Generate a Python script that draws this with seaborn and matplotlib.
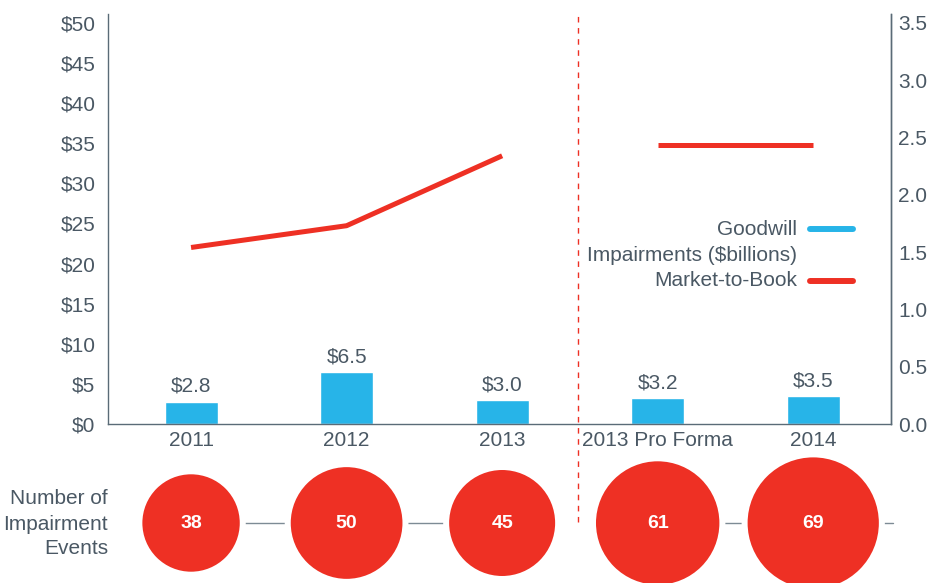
import matplotlib
matplotlib.use("Agg")
import matplotlib.pyplot as plt
import seaborn as sns
import numpy as np
import pandas as pd

# ---- data ----
categories = ["2011", "2012", "2013", "2013 Pro Forma", "2014"]
goodwill = [2.8, 6.5, 3.0, 3.2, 3.5]              # $ billions
market_to_book = [1.54, 1.73, 2.34, 2.43, 2.43]
events = [38, 50, 45, 61, 69]
left_ticks = [0, 5, 10, 15, 20, 25, 30, 35, 40, 45, 50]
right_ticks = [0.0, 0.5, 1.0, 1.5, 2.0, 2.5, 3.0, 3.5]
segments = [[0, 1, 2], [3, 4]]   # line segments (indices) split at the pro forma divider

BLUE = "#27b4e8"
RED = "#ee3024"
TXT = "#4a5864"
SPINE = "#5a6b77"
GRAY = "#7d8b95"
FS = 15

sns.set_theme(style="white")
plt.rcParams["font.family"] = ["Liberation Sans", "DejaVu Sans"]
plt.rcParams["text.color"] = TXT

fig = plt.figure(figsize=(9.29, 5.83), dpi=100)
ax = fig.add_axes([108 / 929, 1 - 424 / 583, (891 - 108) / 929, (424 - 14) / 583])

df = pd.DataFrame({"cat": categories, "goodwill": goodwill})
sns.barplot(data=df, x="cat", y="goodwill", color=BLUE, saturation=1, width=0.34, ax=ax)
ax.set_xlim(-0.534, 4.5)
ylim_top = 51.1
ax.set_ylim(0, ylim_top)
ax.set_yticks(left_ticks)
ax.set_yticklabels([f"${t}" for t in left_ticks])
ax.set_xlabel("")
ax.set_ylabel("")
ax.bar_label(ax.containers[0], labels=[f"${v:.1f}" for v in goodwill],
             padding=4, fontsize=FS, color=TXT)

ax.spines["top"].set_visible(False)
for s in ["left", "bottom", "right"]:
    ax.spines[s].set_color(SPINE)
    ax.spines[s].set_linewidth(1.0)
ax.tick_params(axis="both", length=0, labelsize=FS, colors=TXT)
ax.tick_params(axis="y", pad=9)
ax.tick_params(axis="x", pad=5)

# ---- market-to-book on right axis ----
ax2 = ax.twinx()
for seg in segments:
    seg_df = pd.DataFrame({"x": seg, "v": [market_to_book[i] for i in seg]})
    sns.lineplot(data=seg_df, x="x", y="v", color=RED, linewidth=3.6, ax=ax2,
                 solid_capstyle="butt")
ax2.set_ylim(0, ylim_top * 3.5 / 50)
ax2.set_yticks(right_ticks)
ax2.set_yticklabels([f"{t:.1f}" for t in right_ticks])
ax2.set_xlabel("")
ax2.set_ylabel("")
ax2.tick_params(axis="y", length=0, labelsize=FS, colors=TXT, pad=5)
for s in ["top", "left", "bottom"]:
    ax2.spines[s].set_visible(False)
ax2.spines["right"].set_color(SPINE)
ax2.spines["right"].set_linewidth(1.0)
ax2.set_xlim(-0.534, 4.5)

# ---- divider (dashed) ----
px_per_unit = 410 / ylim_top
circle_y = -(523 - 424) / px_per_unit
div_bottom = -(522 - 424) / px_per_unit
ax.plot([2.49, 2.49], [div_bottom, ylim_top], color=RED, linewidth=1.0,
        linestyle=(0, (4, 4)), clip_on=False, zorder=1)

# ---- impairment events bubbles ----
gap_px = 6
pt = 72 / 100
for seg, end in [([0, 1, 2], 2), ([3, 4], 4.51)]:
    ax.plot([seg[0], end], [circle_y, circle_y], color=GRAY, linewidth=1.0,
            clip_on=False, zorder=2)
ev_df = pd.DataFrame({"x": range(len(events)), "y": [circle_y] * len(events),
                      "n": events})
diam_px = 15.8 * np.sqrt(np.array(events, dtype=float))
sizes = ((diam_px + gap_px) * pt) ** 2
ax.scatter(ev_df["x"], ev_df["y"], s=sizes, color=RED, edgecolors="white",
           linewidths=gap_px * pt, clip_on=False, zorder=3)
for i, n in enumerate(events):
    ax.text(i, circle_y, str(n), ha="center", va="center", color="white",
            fontsize=14, fontweight="bold", zorder=4, clip_on=False)

fig.text(108 / 929, 1 - 524 / 583, "Number of\nImpairment\nEvents", ha="right",
         va="center", multialignment="right", fontsize=FS, color=TXT, linespacing=1.4)

# ---- legend (manual) ----
lx = 0.880
for yy, txt in [(0.4756, "Goodwill"), (0.412, "Impairments ($billions)"),
                (0.349, "Market-to-Book")]:
    ax.text(lx, yy, txt, transform=ax.transAxes, ha="right", va="center",
            fontsize=FS, color=TXT)
ax.plot([0.8966, 0.951], [0.4756, 0.4756], transform=ax.transAxes, color=BLUE,
        linewidth=4.3, solid_capstyle="round", clip_on=False)
ax.plot([0.8966, 0.951], [0.349, 0.349], transform=ax.transAxes, color=RED,
        linewidth=4.3, solid_capstyle="round", clip_on=False)

fig.savefig("out.png", dpi=100)
